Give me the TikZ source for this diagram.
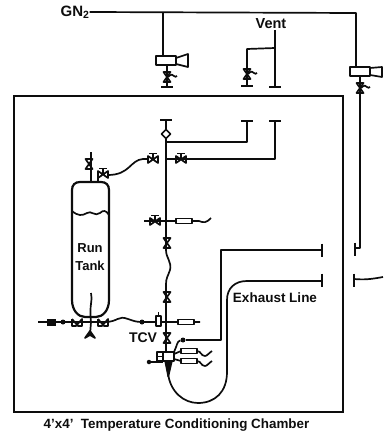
\documentclass[tikz,border=0pt]{standalone}
\usepackage{fontspec}
\setmainfont{Liberation Sans}
\usetikzlibrary{calc}
\definecolor{ink}{gray}{0.05}
\tikzset{
  x=1pt,y=-1pt,
  pipe/.style={draw=ink,line width=1.7pt,line join=round},
  heavy/.style={draw=ink,line width=2.2pt},
  lbl/.style={font=\bfseries\fontsize{13}{18}\selectfont,text=ink,inner sep=0pt,align=center},
  dot/.style={circle,fill=ink,inner sep=0pt,minimum size=5pt},
  vv/.pic={\draw[pipe] (-3.5,-5)--(3.5,-5)--(-3.5,5)--(3.5,5)--cycle;
           \draw[pipe] (1,0) .. controls (4,-3) and (6,-3) .. (7,-1) .. controls (8,0) and (9,0) .. (10,-1);},
  vp/.pic={\draw[pipe] (-3.5,-5)--(3.5,-5)--(-3.5,5)--(3.5,5)--cycle;},
  hv/.pic={\draw[pipe] (-5,-3)--(-5,4)--(5,-3)--(5,4)--cycle;
           \draw[pipe] (-4,-5.5)--(4,-5.5) (0,-5.5)--(0,0);},
  hp/.pic={\draw[pipe] (-5,-4)--(-5,3)--(-1,3)--(5,-4)--(5,3)--(1,3)--(-5,-4);},
  tee/.pic={\draw[pipe] (-6,0)--(6,0);},
  vtee/.pic={\draw[pipe] (0,-6.5)--(0,6.5);},
  filt/.pic={\draw[pipe,fill=white] (-8,-2.5) rectangle (8,2.5);},
}
\begin{document}
\begin{tikzpicture}
\useasboundingbox (0,0) rectangle (383,436);
% text
\node[lbl,font=\bfseries\fontsize{15}{16}\selectfont] (gn) at (75,12) {GN$_{\mathbf 2}$};
\node[lbl,font=\bfseries\fontsize{14.5}{16}\selectfont] (vent) at (271,24) {Vent};
\node[lbl] (run) at (90,257) {Run\\Tank};
\node[lbl,font=\bfseries\fontsize{13.5}{15}\selectfont] (exh) at (275,298) {Exhaust Line};
\node[lbl,font=\bfseries\fontsize{14}{15}\selectfont] (tcv) at (143,338) {TCV};
\node[lbl,font=\bfseries\fontsize{13.4}{15}\selectfont] (cap) at (176.5,425) {4'x4'\ \ Temperature Conditioning Chamber};
% chamber
\draw[heavy] (14,96) rectangle (343,412);
% GN2 lines
\draw[pipe] (gn.east) -- (356,13) -- (356,67);
\draw[pipe] (163,13) -- (163,56);
\draw[pipe,fill=white] (156,56) rectangle (176,65);
\draw[pipe,fill=white] (176,58) -- (188,54) -- (188,67) -- (176,64) -- cycle;
\draw[pipe] (167,65)--(167,87);
\path (167,77) pic {vv};
\path (167,87) pic {tee};
% vent
\draw[pipe] (275,30) -- (275,87);
\draw[pipe] (275,48) -- (247,49) -- (247,85);
\path (247,74) pic {vv};
\path (247,86) pic {tee};
\path (275,87) pic {tee};
% right branch
\draw[pipe,fill=white] (350,67) rectangle (370,76);
\draw[pipe,fill=white] (370,68) -- (382,67) -- (382,77) -- (370,75) -- cycle;
\draw[pipe] (360,76)--(360,248)--(355,248);
\path (360,88) pic {vv};
\path (355,249) pic {vtee};
\path (354,280) pic {vtee};
\draw[pipe] (354,279) .. controls (365,280) and (372,279) .. (383,277);
% main riser
\path (166,120) pic {tee};
\draw[pipe] (166,120) -- (166,129);
\draw[pipe,fill=white] (166,129.5)--(170.5,134)--(166,138.5)--(161.5,134)--cycle;
\draw[pipe] (166,138) -- (166,250) .. controls (166,258) and (172,262) .. (170,270) .. controls (168,276) and (166,278) .. (166,284) -- (166,352);
\draw[pipe] (166,142) -- (247,142) -- (247,122);
\draw[pipe] (166,159) -- (275,159) -- (275,122);
\path (247,121) pic {tee};
\path (275,121) pic {tee};
\path (153,159) pic {hv};
\path (181,159) pic {hv};
\path (103,174) pic {hv};
\draw[pipe] (148,159) -- (143,159) .. controls (130,160) and (130,175) .. (108,175);
% tank
\draw[heavy] (72,203) -- (72,190) .. controls (72,185) and (75,182) .. (80,182) -- (101,182) .. controls (106,182) and (109,185) .. (109,190) -- (109,300) .. controls (109,310) and (103,317) .. (96,317) -- (85,317) .. controls (78,317) and (72,310) .. (72,300) -- cycle;
\draw[pipe] (72,211) .. controls (78,216) and (82,216) .. (87,213) .. controls (91,210) and (95,217) .. (100,213) .. controls (103,210) and (106,210) .. (109,215);
\draw[pipe] (91,182)--(91,152);
\draw[pipe] (98,182)--(98,175);
\path (89,164) pic {vp};
\draw[pipe] (91,293) .. controls (93,300) and (89,305) .. (91,322) -- (90,335);
\draw[pipe,fill=ink] (85,338) -- (90,331) -- (95,338) -- (90,335) -- cycle;
% bottom line
\draw[pipe] (38,322) -- (105,322) .. controls (118,322) and (118,315) .. (128,319) .. controls (134,321) and (136,322) .. (142,322) -- (200,322);
\fill[ink] (47,318.5) rectangle (56,325.5);
\node[dot] (d1) at (63,322) {};
\path (77,323) pic {hp};
\path (103,323) pic {hp};
\node[dot] (d2) at (142,322) {};
\draw[pipe,fill=white] (156,316) rectangle (161,326);
\draw[pipe] (158.5,312)--(158.5,316);
\path (186,322) pic {filt};
% mid row
\draw[pipe] (144,221) -- (199,221) .. controls (204,223) and (206,223) .. (211,218);
\path (155,221) pic {hv};
\path (184,221) pic {filt};
\path (167,243) pic {vp};
\path (167,297) pic {vp};
\path (167,338) pic {vp};
% block
\draw[pipe,fill=white] (163,352) rectangle (174,361);
\draw[pipe,fill=white] (157,352) rectangle (163,361);
\draw[pipe] (157,356.5)--(163,356.5);
\node[dot,minimum size=4.5pt] (d3) at (149,362) {};
\draw[pipe] (d3) -- (163,362);
\fill[ink] (164.5,362) -- (172.5,362) -- (169,377) -- (167.5,377) -- cycle;
% exhaust inner
\node[dot] (d4) at (183,340) {};
\draw[pipe] (174,352) .. controls (177,346) and (177,341) .. (d4);
\draw[pipe] (d4) -- (221,340) -- (221,250) -- (322,250);
\path (322,250) pic {vtee};
\draw[pipe] (168,373) .. controls (170,392) and (184,403) .. (198,403) .. controls (215,403) and (227,392) .. (227,372) -- (227,300) .. controls (227,288) and (235,281) .. (247,281) -- (322,281);
\path (322,280) pic {vtee};
% filters
\draw[pipe] (174,354) -- (181,351);
\draw[pipe] (174,359) -- (181,361);
\path (189,351) pic {filt};
\path (189,361) pic {filt};
\draw[pipe] (197,351) .. controls (201,351) and (201,356) .. (205,356) .. controls (207,356) and (209,353) .. (212,351);
\draw[pipe] (197,361) .. controls (201,361) and (201,366) .. (205,366) .. controls (207,366) and (209,363) .. (212,361);
\end{tikzpicture}
\end{document}
